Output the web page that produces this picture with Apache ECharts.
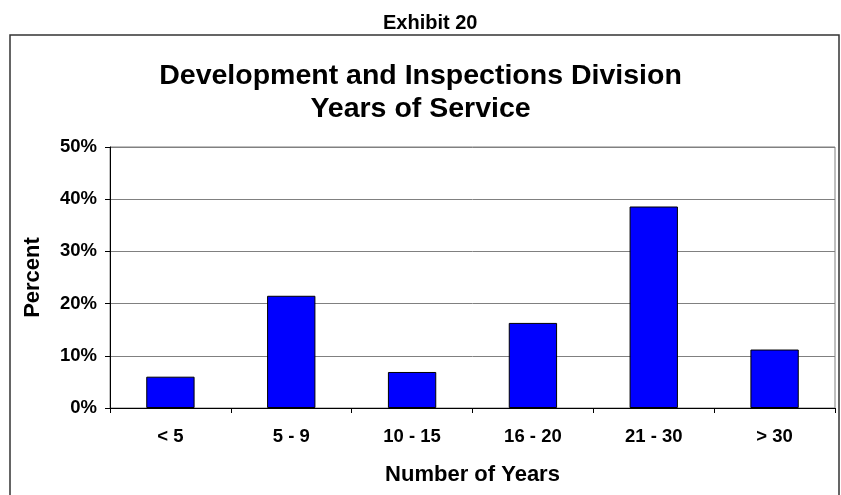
<!DOCTYPE html>
<html>
<head>
<meta charset="utf-8">
<script src="https://cdn.jsdelivr.net/npm/echarts@6/dist/echarts.min.js"></script>
<style>
  html, body { margin: 0; padding: 0; background: #fff; }
  #chart { width: 841px; height: 495px; }
</style>
</head>
<body>
<div id="chart"></div>
<script>
// Share of staff by years of service
const categories = ['< 5', '5 - 9', '10 - 15', '16 - 20', '21 - 30', '> 30'];
const percentValues = [6.0, 21.5, 6.9, 16.3, 38.6, 11.2];
const yTicks = { min: 0, max: 50, interval: 10 };

const FONT = 'Arial, "Liberation Sans", sans-serif';

const chart = echarts.init(document.getElementById('chart'), null, { renderer: 'canvas' });

chart.setOption({
  backgroundColor: '#ffffff',
  animation: false,
  graphic: [{
    type: 'rect',
    shape: { x: 10, y: 35, width: 829, height: 470 },
    style: { fill: 'none', stroke: '#333333', lineWidth: 1.5 },
    z: -1
  }],
  title: [
    {
      text: 'Exhibit 20',
      left: 378,
      top: 8,
      textStyle: { fontFamily: FONT, fontWeight: 'bold', fontSize: 20, color: '#000' }
    },
    {
      text: 'Development and Inspections Division\nYears of Service',
      left: 'center',
      top: 55,
      textStyle: { fontFamily: FONT, fontWeight: 'bold', fontSize: 28.5, lineHeight: 33, color: '#000', align: 'center' }
    }
  ],
  grid: { left: 110, right: 6, top: 147, bottom: 87, containLabel: false,
          show: true, borderColor: '#808080', borderWidth: 1, backgroundColor: 'transparent' },
  xAxis: {
    type: 'category',
    data: categories,
    name: 'Number of Years',
    nameLocation: 'middle',
    nameGap: 56,
    nameTextStyle: { fontFamily: FONT, fontWeight: 'bold', fontSize: 22, color: '#000' },
    axisLine: { lineStyle: { color: '#000', width: 1 } },
    axisTick: { show: true, alignWithLabel: false, length: 5, lineStyle: { color: '#000' } },
    axisLabel: { margin: 19, fontFamily: FONT, fontWeight: 'bold', fontSize: 18.5, color: '#000' },
    splitLine: { show: false }
  },
  yAxis: {
    type: 'value',
    min: yTicks.min,
    max: yTicks.max,
    interval: yTicks.interval,
    name: 'Percent',
    nameLocation: 'middle',
    nameGap: 66,
    nameRotate: 90,
    nameTextStyle: { fontFamily: FONT, fontWeight: 'bold', fontSize: 22, color: '#000' },
    axisLine: { show: true, lineStyle: { color: '#000', width: 1 } },
    axisTick: { show: true, length: 5, lineStyle: { color: '#000' } },
    axisLabel: { margin: 13, formatter: '{value}%', fontFamily: FONT, fontWeight: 'bold', fontSize: 18.5, color: '#000' },
    splitLine: { show: true, lineStyle: { color: '#808080', width: 1 } }
  },
  series: [{
    type: 'bar',
    data: percentValues,
    barWidth: '40%',
    itemStyle: { color: '#0000ff', borderColor: '#000', borderWidth: 1 }
  }]
});
</script>
</body>
</html>
